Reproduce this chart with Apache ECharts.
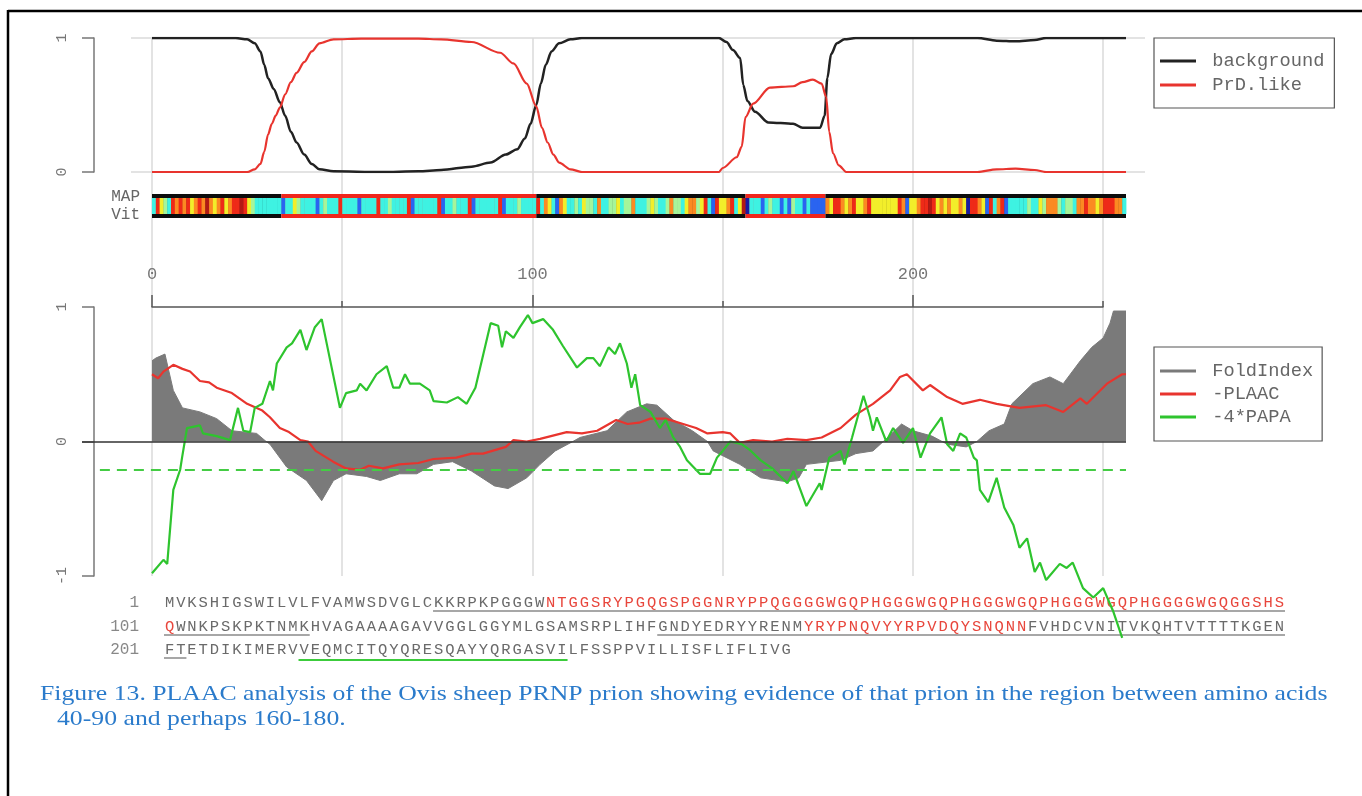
<!DOCTYPE html>
<html><head><meta charset="utf-8">
<script src="https://cdn.jsdelivr.net/npm/echarts@6/dist/echarts.min.js"></script>
<style>html,body{margin:0;padding:0;background:#fff}#c{width:1362px;height:796px}</style>
</head><body><div id="c"></div><script>
// ---------------- DATA ----------------
const xMajorTicks = [0, 100, 200];
const bgPts = [[0,1],[22,1],[25,0.99],[27,0.96],[28.5,0.9],[29.5,0.8],[30.5,0.7],[32,0.62],[33.6,0.52],[35,0.42],[36.5,0.3],[38,0.22],[40,0.13],[42,0.06],[44,0.02],[47.7,0.005],[60,0],[70,0.005],[76,0.015],[84,0.04],[89,0.07],[93,0.13],[96,0.17],[98,0.25],[99.5,0.36],[101,0.5],[102.2,0.66],[103.5,0.8],[105,0.9],[107,0.96],[110,0.99],[113,1],[149,1],[151,0.97],[152.7,0.91],[154.6,0.85],[155.4,0.65],[156.5,0.53],[158.5,0.45],[162,0.37],[168.5,0.36],[171,0.33],[175.6,0.33],[176.8,0.42],[177.5,0.7],[178.5,0.88],[180,0.96],[182,0.99],[185,1],[217,1],[222,0.98],[227,0.975],[232,0.985],[235,1],[256,1]];
const prdPts = [[0,0],[22,0],[25,0],[27,0.02],[28.5,0.06],[29.5,0.15],[30.5,0.28],[31.5,0.36],[32.5,0.42],[33.6,0.48],[35,0.58],[36.5,0.67],[38,0.74],[40,0.82],[42,0.9],[44,0.96],[47.7,0.99],[55,0.995],[70,0.995],[76,0.99],[84,0.97],[91.5,0.89],[95,0.81],[98.5,0.66],[101,0.49],[102.5,0.33],[104,0.22],[105.5,0.13],[107,0.07],[110,0.02],[113,0],[149,0],[150,0.03],[153.7,0.11],[155,0.19],[156,0.41],[158,0.51],[162.4,0.63],[168.5,0.64],[171,0.67],[173.7,0.69],[176,0.66],[177.2,0.56],[178,0.3],[179,0.14],[180.5,0.05],[182.5,0],[217,0],[222,0.02],[227,0.025],[232,0.015],[235,0],[256,0]];
const foldPts = [[0,0.6],[1,0.62],[3.4,0.65],[5.6,0.38],[8,0.25],[12.6,0.22],[17,0.17],[21,0.08],[27.5,0.06],[30,0],[31,-0.02],[35.4,-0.19],[40.6,-0.29],[44.6,-0.44],[47.7,-0.29],[51,-0.24],[56.4,-0.26],[60,-0.29],[65,-0.24],[69.6,-0.24],[74,-0.17],[79,-0.15],[84,-0.22],[90,-0.33],[93.6,-0.35],[98.5,-0.27],[102,-0.17],[106,-0.07],[110.6,0],[112.5,0.03],[119.6,0.08],[124.8,0.22],[130,0.28],[132.7,0.27],[137,0.16],[142,0.08],[146,0],[147.5,-0.07],[154.5,-0.17],[160,-0.27],[167,-0.3],[170,-0.27],[172,-0.17],[181,-0.14],[185,-0.09],[189.5,-0.07],[193,0.02],[197,0.13],[200,0.08],[205,0.04],[209,-0.02],[214,-0.04],[216.8,0],[220,0.08],[224,0.13],[226,0.28],[231.5,0.43],[236,0.48],[239.5,0.43],[244,0.6],[247,0.7],[250,0.77],[251.8,0.88],[252.7,0.97],[256,0.97]];
const plaacPts = [[0,0.5],[1.6,0.47],[3,0.52],[5.6,0.57],[8,0.54],[10,0.52],[12.6,0.45],[15,0.44],[17,0.4],[21,0.36],[25,0.28],[29,0.23],[31,0.18],[33.6,0.1],[36,0.07],[39,0.01],[41,0],[43,-0.07],[47.6,-0.15],[51,-0.2],[54.7,-0.21],[57,-0.18],[60.7,-0.2],[65,-0.17],[70,-0.16],[74,-0.13],[80,-0.12],[84,-0.09],[87,-0.09],[93,-0.04],[95,0.01],[98.5,0],[102,0.02],[109,0.07],[113,0.06],[117,0.08],[122,0.16],[125,0.13],[128,0.14],[131,0.17],[135,0.17],[139.6,0.13],[143,0.1],[146,0.06],[150,0.07],[152,0.06],[154.5,-0.01],[158,0.01],[163,0],[167,0.02],[172,0.01],[176,0.03],[181,0.1],[185,0.2],[189.5,0.28],[194,0.38],[196.6,0.48],[198.4,0.5],[202.6,0.38],[204.5,0.42],[209,0.33],[213,0.28],[217.6,0.31],[222,0.28],[228,0.25],[235,0.27],[239.5,0.22],[244,0.32],[245.7,0.28],[251,0.43],[255,0.5],[256,0.5]];
const papaPts = [[0,-0.98],[3,-0.88],[4,-0.91],[5.6,-0.36],[7.4,-0.21],[7.9,-0.12],[9.2,0.1],[12.6,0.12],[13.4,0.06],[17,0.04],[20.5,0.01],[22.6,0.25],[24,0.08],[25.8,0.07],[27,0.25],[29,0.28],[31,0.45],[31.8,0.38],[32.8,0.58],[35.4,0.7],[36.8,0.73],[39,0.83],[40.6,0.68],[42.8,0.85],[44.6,0.91],[49.4,0.25],[51,0.36],[53.8,0.38],[54.7,0.43],[56.4,0.38],[59,0.5],[61.7,0.56],[63.4,0.4],[65,0.4],[66.5,0.5],[67.8,0.43],[70.4,0.43],[73,0.38],[74,0.3],[77.5,0.29],[80.4,0.33],[82.7,0.28],[85,0.4],[89,0.88],[91,0.86],[92,0.7],[93,0.82],[95,0.77],[96.7,0.85],[98.8,0.94],[100,0.88],[102.8,0.91],[105.4,0.83],[108,0.71],[111.7,0.55],[114.3,0.62],[116,0.62],[117.7,0.56],[120,0.7],[121.7,0.65],[123,0.73],[124.8,0.58],[126,0.4],[127,0.5],[128.3,0.27],[131,0.22],[133.5,0.1],[135,0.16],[137,0.03],[138.8,-0.04],[140.6,-0.14],[144,-0.24],[146.7,-0.24],[148.5,-0.12],[150,-0.07],[152,0],[155,-0.02],[157,-0.06],[160,-0.14],[163,-0.2],[167,-0.31],[168.6,-0.22],[172,-0.48],[175.5,-0.31],[176,-0.36],[178,-0.12],[181,-0.07],[182,-0.17],[184,0.03],[187,0.34],[188.7,0.18],[189.5,0.08],[190.5,0.18],[193,0],[194.8,0.1],[197.4,-0.01],[200,0.1],[202,-0.12],[204.5,0.06],[207.5,0.18],[209,-0.02],[210.6,-0.07],[212.4,0.06],[214,0.03],[216,-0.12],[216.8,-0.14],[217.6,-0.36],[219.8,-0.45],[222,-0.27],[224,-0.49],[226.4,-0.62],[228,-0.79],[230,-0.72],[232,-0.97],[233.4,-0.9],[235,-1.03],[238.6,-0.91],[240.4,-0.94],[242,-0.9],[244.7,-1.09],[247.4,-1.16],[250,-1.09],[252.6,-1.26],[255,-1.46]];
const papaThreshold = -0.21;
// MAP colour code per residue (k navy, b blue, c cyan, g green, y yellow, o orange, r red, d dark red)
const mapCodes =
  "crygcrororyorodoyoryorrdrygccccccc" +
  "bccygccccb" + "cgcccrcccc" + "bccccrccgc" + "cccrbccccc" + "crbccgcccr" + "bccccccrbc" + "ccgcccc" +
  "rcoycboycc" + "gcyggcoccg" + "gycggocccg" + "ygccgoggcy" + "oogyrcbryy" + "orcydk" +
  "cccbcgccbcbgccbcbbbb" +
  "oyrroyoryyoryy" +
  "yyyyyrobyy" + "orrdryoyoy" + "yoykrroybr" + "corbcccccg" + "ccygooogcg" + "gcoorooyor" + "rrooc";
const mapKeys = "kbcgyord";
const mapPalette = ['#1a1aa0','#2a64f0','#3ef2e2','#a6f59a','#f2ee2a','#fb8a22','#ee2a18','#b21a14'];
// Viterbi path: [start, end, state(0 background, 1 PrD-like)]
const vitSegments = [[0,34,0],[34,101,1],[101,156,0],[156,177,1],[177,256,0]];
const seqNumbers = ['1','101','201'];
const seqLines = [
  "MVKSHIGSWILVLFVAMWSDVGLCKKRPKPGGGWNTGGSRYPGQGSPGGNRYPPQGGGGWGQPHGGGWGQPHGGGWGQPHGGGWGQPHGGGGWGQGGSHS",
  "QWNKPSKPKTNMKHVAGAAAAGAVVGGLGGYMLGSAMSRPLIHFGNDYEDRYYRENMYRYPNQVYYRPVDQYSNQNNFVHDCVNITVKQHTVTTTTKGEN",
  "FTETDIKIMERVVEQMCITQYQRESQAYYQRGASVILFSSPPVILLISFLIFLIVG"
];
// [line, start, end] residues written in red
const seqRed = [[0,34,100],[1,0,1],[1,57,77]];
// [line, start, end, kind]
const seqUnderlines = [[0,24,100,'gray'],[1,0,13,'gray'],[1,44,100,'gray'],[2,0,2,'gray'],[2,12,36,'green']];
const caption = ["Figure 13. PLAAC analysis of the Ovis sheep PRNP prion showing evidence of that prion in the region between amino acids",
                 "40-90 and perhaps 160-180."];

// ---------------- STYLE ----------------
const MONO = "'Liberation Mono','DejaVu Sans Mono',monospace";
const GRAY = '#777';
const GRIDC = '#dadada';
const RED = '#e8342e', GREEN = '#2ec42e', BLACK = '#222', FOLD = '#7a7a7a';

const chart = echarts.init(document.getElementById('c'), null, {renderer:'canvas'});

const SX = 164, ADV = 11.21, lineY = [603, 627, 650];
const graphics = [];
graphics.push({type:'line', shape:{x1:8,y1:11,x2:1362,y2:11}, style:{stroke:'#000', lineWidth:2.5}, silent:true});
graphics.push({type:'line', shape:{x1:8,y1:10,x2:8,y2:796}, style:{stroke:'#000', lineWidth:2.5}, silent:true});
graphics.push({type:'text', x:140, y:197, style:{text:'MAP', fill:'#666', font:"16px "+MONO, align:'right', verticalAlign:'middle'}});
graphics.push({type:'text', x:140, y:215, style:{text:'Vit', fill:'#666', font:"16px "+MONO, align:'right', verticalAlign:'middle'}});
seqLines.forEach((s, li) => {
  graphics.push({type:'text', x:139, y:lineY[li], style:{text:seqNumbers[li], fill:'#888', font:"16px "+MONO, align:'right', verticalAlign:'middle'}});
  const red = new Array(s.length).fill(false);
  seqRed.filter(r => r[0] === li).forEach(r => { for (let i = r[1]; i < Math.min(r[2], s.length); i++) red[i] = true; });
  for (let i = 0; i < s.length; i++) {
    graphics.push({type:'text', x:SX + (i + 0.5) * ADV, y:lineY[li], silent:true,
      style:{text:s[i], fill: red[i] ? '#e8463c' : '#6a6a6a', font:"15.5px "+MONO, align:'center', verticalAlign:'middle'}});
  }
});
seqUnderlines.forEach(u => {
  const y = lineY[u[0]] + (u[3] === 'green' ? 10 : 8);
  graphics.push({type:'line', shape:{x1:SX + u[1]*ADV, y1:y, x2:SX + u[2]*ADV, y2:y}, silent:true,
    style:{stroke: u[3]==='green' ? '#3ccc3c' : '#8a8a8a', lineWidth: u[3]==='green' ? 2 : 1.5}});
});
const capFont = "22px 'Liberation Serif','DejaVu Serif',serif";
graphics.push({type:'text', x:40, y:694, scaleX:1.17, originX:0, originY:0,
  style:{text:caption[0], fill:'#2b7bcb', font:capFont, align:'left', verticalAlign:'middle'}});
graphics.push({type:'text', x:57, y:719, scaleX:1.17, originX:0, originY:0,
  style:{text:caption[1], fill:'#2b7bcb', font:capFont, align:'left', verticalAlign:'middle'}});

const legendCommon = {orient:'vertical', icon:'rect', itemWidth:36, itemHeight:3, selectedMode:false,
  borderColor:'#555', borderWidth:1.2, formatter: n => ' ' + n,
  textStyle:{fontFamily:MONO, fontSize:18.7, color:'#666', lineHeight:20}};

const yBracket = (offset, min, max) => ({
  type:'value', min, max, interval:1, offset,
  axisLine:{show:true, onZero:false, lineStyle:{color:GRAY, width:1.5}},
  axisTick:{show:true, length:12, lineStyle:{color:GRAY, width:1.5}},
  axisLabel:{rotate:90, margin:24, color:'#777', fontFamily:MONO, fontSize:15}
});

const option = {
  animation:false,
  backgroundColor:'#fff',
  graphic: graphics,
  legend:[
    Object.assign({}, legendCommon, {data:['background','PrD.like'], left:1154, top:38, itemGap:4, padding:[13,10,13,6]}),
    Object.assign({}, legendCommon, {data:['FoldIndex','-PLAAC','-4*PAPA'], left:1154, top:347, itemGap:3, padding:[14,9,14,6]})
  ],
  grid:[
    {left:131, right:217, top:38, height:134},
    {left:152, right:236, top:194, height:24},
    {left:152, right:259, top:38, height:538},
    {left:152, right:259, top:307, height:269},
    {left:152, right:449, top:307, height:269},
    {left:82, right:236, top:307, height:269}
  ],
  xAxis:[
    {gridIndex:0, type:'value', min:-5.52, max:261, show:false},
    {gridIndex:1, type:'value', min:0, max:256, show:false},
    {gridIndex:2, type:'value', min:0, max:250, interval:50, axisLine:{show:false}, axisTick:{show:false}, axisLabel:{show:false},
      splitLine:{show:true, lineStyle:{color:GRIDC, width:1.5}}},
    {gridIndex:3, type:'value', position:'top', min:0, max:250, interval:50,
      axisLine:{show:true, onZero:false, lineStyle:{color:'#555', width:1.5}},
      axisTick:{show:true, length:6, lineStyle:{color:'#555', width:1.5}}, axisLabel:{show:false}, splitLine:{show:false}},
    {gridIndex:4, type:'value', position:'top', min:0, max:200, interval:100,
      axisLine:{show:false, onZero:false}, axisTick:{show:true, length:12, lineStyle:{color:'#555', width:1.5}},
      axisLabel:{show:true, margin:24.5, color:'#777', fontFamily:MONO, fontSize:17}, splitLine:{show:false}},
    {gridIndex:5, type:'value', min:-18.4, max:256, show:false}
  ],
  yAxis:[
    Object.assign(yBracket(37, 0, 1), {gridIndex:0, splitLine:{show:true, lineStyle:{color:GRIDC, width:1.5}}}),
    {gridIndex:1, type:'value', min:0, max:1, show:false},
    {gridIndex:2, type:'value', min:0, max:1, show:false},
    {gridIndex:3, type:'value', min:-1, max:1, show:false},
    {gridIndex:4, type:'value', min:-1, max:1, show:false},
    Object.assign(yBracket(-12, -1, 1), {gridIndex:5, splitLine:{show:false}})
  ],
  series:[
    {name:'background', type:'line', xAxisIndex:0, yAxisIndex:0, data:bgPts, showSymbol:false, smooth:0.3, smoothMonotone:'x',
      color:BLACK, lineStyle:{color:BLACK, width:2.5}, z:3},
    {name:'PrD.like', type:'line', xAxisIndex:0, yAxisIndex:0, data:prdPts, showSymbol:false, smooth:0.3, smoothMonotone:'x',
      color:RED, lineStyle:{color:RED, width:2.2}, z:3},
    {name:'vit', type:'custom', xAxisIndex:1, yAxisIndex:1, data:vitSegments, z:4,
      renderItem:(p, api) => {
        const a = api.coord([api.value(0), 1]), b = api.coord([api.value(1), 0]);
        return {type:'rect', shape:{x:a[0], y:a[1], width:b[0]-a[0], height:b[1]-a[1]}, style:{fill: api.value(2) ? '#f0261c' : '#0c0c0c'}};
      }},
    {name:'map', type:'custom', xAxisIndex:1, yAxisIndex:1, z:5,
      data: mapCodes.split('').map((ch, i) => [i, mapKeys.indexOf(ch)]),
      renderItem:(p, api) => {
        const i = api.value(0);
        const a = api.coord([i, 0.8333]), b = api.coord([i + 1, 0.1667]);
        return {type:'rect', shape:{x:a[0], y:a[1], width:b[0]-a[0]+0.4, height:b[1]-a[1]}, style:{fill: mapPalette[api.value(1)]}};
      }},
    {name:'FoldIndex', type:'line', xAxisIndex:5, yAxisIndex:5, data:foldPts, showSymbol:false,
      color:FOLD, lineStyle:{color:FOLD, width:1}, areaStyle:{color:FOLD, opacity:1, origin:0}, z:2},
    {name:'-PLAAC', type:'line', xAxisIndex:5, yAxisIndex:5, data:plaacPts, showSymbol:false,
      color:RED, lineStyle:{color:RED, width:2.2}, z:3,
      markLine:{silent:true, symbol:['none','none'], label:{show:false}, animation:false,
        data:[
          [{coord:[-18.4, 0], lineStyle:{color:'#333', width:1.5, type:'solid'}}, {coord:[256, 0]}],
          [{coord:[-13.7, papaThreshold], lineStyle:{color:'#44cc44', width:2, type:[10,7]}}, {coord:[256, papaThreshold]}]
        ]}},
    {name:'-4*PAPA', type:'line', xAxisIndex:5, yAxisIndex:5, data:papaPts, showSymbol:false, clip:false,
      color:GREEN, lineStyle:{color:GREEN, width:2.2}, z:4}
  ]
};
chart.setOption(option);
</script></body></html>
